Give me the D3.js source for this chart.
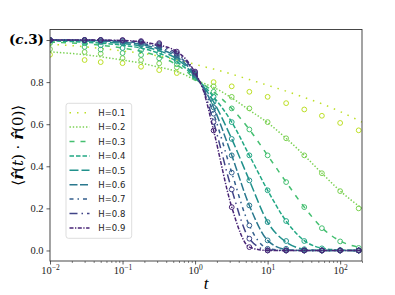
<!DOCTYPE html>
<html>
<head>
<meta charset="utf-8">
<script src="https://cdn.jsdelivr.net/npm/d3@7"></script>
<style>
  body { margin: 0; background: #fff; }
  svg { display: block; }
  .tick text { font-family: "Liberation Serif", serif; }
</style>
</head>
<body>
<svg id="chart" width="395" height="295"></svg>
<script>
// legend labels / exponents
var hurst = [0.1, 0.2, 0.3, 0.4, 0.5, 0.6, 0.7, 0.8, 0.9];
var xMajor = [0.01, 0.1, 1, 10, 100];
var xExp = ["\u22122", "\u22121", "0", "1", "2"];
var yMajor = [0, 0.2, 0.4, 0.6, 0.8, 1.0];

// theory curves
var lineT = [0.01, 0.03, 0.1, 0.2, 0.3, 0.56, 0.75, 1, 1.3, 1.8, 3.2, 5.6, 10, 18, 32, 56, 100, 200];
var lineH1 = [0.98, 0.968, 0.948, 0.935, 0.925, 0.905, 0.895, 0.885, 0.874, 0.862, 0.838, 0.812, 0.785, 0.757, 0.727, 0.697, 0.66, 0.61];
var lineH2 = [0.944, 0.93, 0.905, 0.887, 0.873, 0.85, 0.832, 0.81, 0.795, 0.775, 0.725, 0.667, 0.607, 0.533, 0.452, 0.367, 0.283, 0.2];
var lineH3 = [0.99, 0.982, 0.962, 0.943, 0.925, 0.882, 0.852, 0.815, 0.79, 0.754, 0.675, 0.575, 0.452, 0.325, 0.206, 0.108, 0.045, 0.013];
var lineH4 = [0.996, 0.99, 0.975, 0.958, 0.94, 0.897, 0.864, 0.82, 0.785, 0.73, 0.61, 0.452, 0.286, 0.14, 0.047, 0.011, 0.002, 0];
var lineH5 = [0.999, 0.996, 0.984, 0.968, 0.952, 0.91, 0.875, 0.825, 0.78, 0.706, 0.53, 0.333, 0.135, 0.04, 0.006, 0, 0, 0];
var lineH6 = [1.0, 0.998, 0.99, 0.976, 0.96, 0.92, 0.884, 0.83, 0.775, 0.68, 0.452, 0.214, 0.048, 0.005, 0, 0, 0, 0];
var lineH7 = [1.0, 0.999, 0.994, 0.982, 0.967, 0.928, 0.892, 0.835, 0.77, 0.65, 0.37, 0.119, 0.01, 0, 0, 0, 0, 0];
var lineH8 = [1.0, 1.0, 0.997, 0.987, 0.973, 0.937, 0.9, 0.84, 0.765, 0.61, 0.29, 0.056, 0.002, 0, 0, 0, 0, 0];
var lineH9 = [1.0, 1.0, 0.998, 0.99, 0.978, 0.945, 0.908, 0.845, 0.76, 0.57, 0.206, 0.016, 0, 0, 0, 0, 0, 0];

// simulation points
var simT = [0.01, 0.03, 0.05, 0.1, 0.18, 0.32, 0.56, 1, 1.8, 3.2, 5.6, 10, 18, 32, 56, 100, 180];
var simH1 = [0.93, 0.905, 0.895, 0.89, 0.873, 0.857, 0.843, 0.825, 0.80, 0.78, 0.754, 0.73, 0.70, 0.67, 0.64, 0.606, 0.571];
var simH2 = [0.957, 0.943, 0.935, 0.914, 0.905, 0.889, 0.87, 0.835, 0.78, 0.73, 0.675, 0.61, 0.533, 0.452, 0.367, 0.282, 0.2];
var simH3 = [0.985, 0.967, 0.955, 0.938, 0.929, 0.913, 0.885, 0.82, 0.754, 0.675, 0.575, 0.452, 0.325, 0.206, 0.106, 0.043, 0.012];
var simH4 = [0.995, 0.985, 0.975, 0.962, 0.952, 0.937, 0.9, 0.825, 0.73, 0.61, 0.452, 0.286, 0.14, 0.045, 0.01, 0.002, 0];
var simH5 = [1.0, 0.995, 0.99, 0.985, 0.976, 0.962, 0.91, 0.83, 0.706, 0.53, 0.333, 0.135, 0.045, 0.006, 0, 0, 0];
var simH6 = [1.0, 1.0, 0.995, 0.99, 0.982, 0.97, 0.92, 0.835, 0.68, 0.452, 0.214, 0.048, 0.008, 0, 0, 0, 0];
var simH7 = [1.0, 1.0, 1.0, 0.995, 0.988, 0.975, 0.928, 0.84, 0.65, 0.37, 0.119, 0.008, 0, 0, 0, 0, 0];
var simH8 = [1.0, 1.0, 1.0, 0.998, 0.992, 0.98, 0.937, 0.845, 0.61, 0.29, 0.056, 0, 0, 0, 0, 0, 0];
var simH9 = [1.0, 1.0, 1.0, 1.0, 0.995, 0.985, 0.945, 0.85, 0.57, 0.206, 0.016, 0, 0, 0, 0, 0, 0];

var lines = [lineH1, lineH2, lineH3, lineH4, lineH5, lineH6, lineH7, lineH8, lineH9];
var sims = [simH1, simH2, simH3, simH4, simH5, simH6, simH7, simH8, simH9];
var dashes = ["1.5,6", "1.4,1.9", "5,6", "4.5,2", "9,3", "8,2.5", "4,4,1.5,4", "8,4,1.5,4", "4,1.5,1.3,1.5"];

var svg = d3.select("#chart");
var pL = 50, pR = 362, pT = 29.5, pB = 261;

var x = d3.scaleLog().domain([0.01, 200]).range([pL, pR]);
var y = d3.scaleLinear().domain([-0.05, 1.05]).range([pB, pT]);
var color = function(h) { return d3.interpolateViridis(1 - h); };

svg.append("clipPath").attr("id", "clip")
  .append("rect").attr("x", pL).attr("y", pT)
  .attr("width", pR - pL).attr("height", pB - pT);

var plot = svg.append("g").attr("clip-path", "url(#clip)");
var line = d3.line()
  .x(function(d) { return x(d[0]); })
  .y(function(d) { return y(d[1]); })
  .curve(d3.curveMonotoneX);

hurst.forEach(function(h, i) {
  plot.append("path")
    .datum(lineT.map(function(t, j) { return [t, lines[i][j]]; }))
    .attr("fill", "none")
    .attr("stroke", color(h))
    .attr("stroke-width", 1.5)
    .attr("stroke-dasharray", dashes[i])
    .attr("d", line);
  plot.append("g").selectAll("circle")
    .data(simT.map(function(t, j) { return [t, sims[i][j]]; }))
    .enter().append("circle")
    .attr("cx", function(d) { return x(d[0]); })
    .attr("cy", function(d) { return y(d[1]); })
    .attr("r", 2.4)
    .attr("fill", "none")
    .attr("stroke", color(h))
    .attr("stroke-width", 1);
});

// x axis
var minor = [];
[0.01, 0.1, 1, 10, 100].forEach(function(b) {
  for (var k = 2; k <= 9; k++) { if (b * k <= 200) minor.push(b * k); }
});
svg.append("g")
  .attr("transform", "translate(0," + pB + ")")
  .call(d3.axisBottom(x).tickValues(minor).tickSize(2).tickFormat(""))
  .call(function(g) { g.select(".domain").remove(); g.selectAll("line").attr("stroke", "#333").attr("stroke-width", 0.6); });

var xAxis = svg.append("g")
  .attr("transform", "translate(0," + pB + ")")
  .call(d3.axisBottom(x).tickValues(xMajor).tickSize(3.5).tickFormat(""));
xAxis.select(".domain").remove();
xAxis.selectAll("line").attr("stroke", "#333").attr("stroke-width", 0.8);
xAxis.selectAll(".tick").each(function(d, i) {
  var t = d3.select(this).append("text")
    .attr("y", 13)
    .attr("fill", "#222")
    .attr("text-anchor", "middle")
    .style("font-size", "10.5px");
  t.append("tspan").text("10");
  t.append("tspan").attr("dy", -4.5).style("font-size", "7.5px").text(xExp[i]);
});

// y axis
var yAxis = svg.append("g")
  .attr("transform", "translate(" + pL + ",0)")
  .call(d3.axisLeft(y).tickValues(yMajor).tickSize(3.5).tickPadding(3)
    .tickFormat(function(d) { return d === 1 ? "" : d3.format(".1f")(d); }));
yAxis.select(".domain").remove();
yAxis.selectAll("line").attr("stroke", "#333").attr("stroke-width", 0.8);
yAxis.selectAll("text").attr("fill", "#222").style("font-size", "10.5px");

// frame
svg.append("rect")
  .attr("x", pL).attr("y", pT)
  .attr("width", pR - pL).attr("height", pB - pT)
  .attr("fill", "none").attr("stroke", "#333").attr("stroke-width", 0.9);

// legend
var lg = svg.append("g");
lg.append("rect")
  .attr("x", 66).attr("y", 103.3).attr("width", 65.7).attr("height", 135)
  .attr("rx", 2.5)
  .attr("fill", "#fff").attr("fill-opacity", 0.8)
  .attr("stroke", "#d4d4d4").attr("stroke-width", 0.8);
hurst.forEach(function(h, i) {
  var yy = 112.7 + i * 14.4;
  lg.append("line")
    .attr("x1", 69.5).attr("x2", 89.5).attr("y1", yy).attr("y2", yy)
    .attr("stroke", color(h)).attr("stroke-width", 1.5)
    .attr("stroke-dasharray", dashes[i]);
  lg.append("text")
    .attr("x", 98.3).attr("y", yy + 3.2)
    .attr("fill", "#222")
    .style("font-family", "'DejaVu Sans', sans-serif")
    .style("font-size", "8.5px")
    .text("H=" + h);
});

// labels
svg.append("text")
  .attr("x", (pL + pR) / 2).attr("y", 289)
  .attr("text-anchor", "middle")
  .style("font-family", "'Liberation Serif', serif")
  .style("font-style", "italic")
  .style("font-size", "17px")
  .text("t");

var yl = svg.append("text")
  .attr("transform", "translate(23," + ((pT + pB) / 2) + ") rotate(-90)")
  .attr("text-anchor", "middle")
  .style("font-family", "'DejaVu Serif', serif")
  .style("font-size", "15px");
yl.append("tspan").text("\u27E8");
yl.append("tspan").style("font-weight", "bold").style("font-style", "italic").text("r\u0302");
yl.append("tspan").text("(");
yl.append("tspan").style("font-style", "italic").text("t");
yl.append("tspan").text(") \u00B7 ");
yl.append("tspan").style("font-weight", "bold").style("font-style", "italic").text("r\u0302");
yl.append("tspan").text("(0)\u27E9");

var tag = svg.append("text")
  .attr("x", 44).attr("y", 43.5)
  .attr("text-anchor", "end")
  .style("font-family", "'DejaVu Serif', serif")
  .style("font-weight", "bold")
  .style("font-size", "13.5px");
tag.append("tspan").text("(");
tag.append("tspan").style("font-style", "italic").text("c");
tag.append("tspan").text(".3)");
</script>
</body>
</html>
